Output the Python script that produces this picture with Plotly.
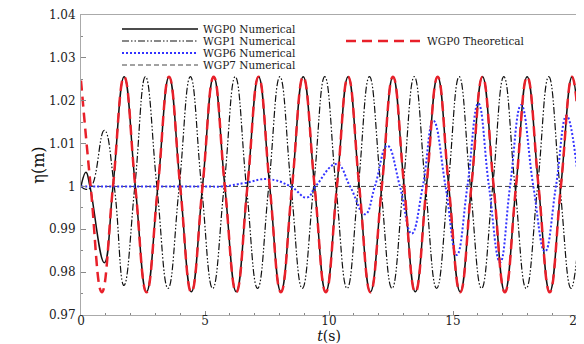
import plotly.graph_objects as go

# ---------------- data ----------------
# WGP0 Theoretical (red dashed)
t_theo = [0.0, 0.39, 0.84, 1.29, 1.74, 2.19, 2.64, 3.10, 3.55, 4.00, 4.45, 4.90, 5.35, 5.80,
          6.26, 6.71, 7.16, 7.61, 8.06, 8.51, 8.96, 9.42, 9.87, 10.32, 10.77, 11.22, 11.67,
          12.13, 12.58, 13.03, 13.48, 13.93, 14.38, 14.83, 15.29, 15.74, 16.19, 16.64, 17.09,
          17.54, 17.99, 18.45, 18.90, 19.35, 19.80, 20.0]
eta_theo = [1.0247, 1.0, 0.9753, 1.0, 1.0256, 1.0, 0.9753, 1.0, 1.0256, 1.0, 0.9753, 1.0, 1.0256, 1.0,
            0.9753, 1.0, 1.0256, 1.0, 0.9753, 1.0, 1.0256, 1.0, 0.9753, 1.0, 1.0256, 1.0, 0.9753,
            1.0, 1.0256, 1.0, 0.9753, 1.0, 1.0256, 1.0, 0.9753, 1.0, 1.0256, 1.0, 0.9753,
            1.0, 1.0256, 1.0, 0.9753, 1.0, 1.0256, 1.019]

# WGP0 Numerical (black solid)
t_wgp0 = [0.0, 0.20, 0.36, 0.94, 1.29, 1.74, 2.19, 2.64, 3.10, 3.55, 4.00, 4.45, 4.90, 5.35, 5.80,
          6.26, 6.71, 7.16, 7.61, 8.06, 8.51, 8.96, 9.42, 9.87, 10.32, 10.77, 11.22, 11.67,
          12.13, 12.58, 13.03, 13.48, 13.93, 14.38, 14.83, 15.29, 15.74, 16.19, 16.64, 17.09,
          17.54, 17.99, 18.45, 18.90, 19.35, 19.80, 20.0]
eta_wgp0 = [1.0, 1.0033, 1.0, 0.9822, 1.0, 1.0256, 1.0, 0.9754, 1.0, 1.0256, 1.0, 0.9754, 1.0, 1.0256, 1.0,
            0.9754, 1.0, 1.0256, 1.0, 0.9754, 1.0, 1.0256, 1.0, 0.9754, 1.0, 1.0256, 1.0, 0.9754,
            1.0, 1.0256, 1.0, 0.9754, 1.0, 1.0256, 1.0, 0.9754, 1.0, 1.0256, 1.0, 0.9754,
            1.0, 1.0256, 1.0, 0.9754, 1.0, 1.0256, 1.019]

# WGP1 Numerical (black dash-dot-dot)
t_wgp1 = [0.0, 0.20, 0.42, 0.94, 1.34, 1.73, 2.17, 2.60, 3.06, 3.51, 3.96, 4.41, 4.86, 5.31, 5.77,
          6.22, 6.67, 7.12, 7.57, 8.02, 8.47, 8.92, 9.38, 9.83, 10.28, 10.73, 11.18, 11.63,
          12.09, 12.54, 12.99, 13.44, 13.89, 14.34, 14.80, 15.25, 15.70, 16.15, 16.60, 17.05,
          17.50, 17.95, 18.41, 18.86, 19.31, 19.76, 20.0]
eta_wgp1 = [1.0, 0.9993, 1.0, 1.0131, 1.0, 0.9769, 1.0, 1.0256, 1.0, 0.9762, 1.0, 1.0256, 1.0, 0.9762, 1.0,
            1.0256, 1.0, 0.9762, 1.0, 1.0256, 1.0, 0.9762, 1.0, 1.0256, 1.0, 0.9762, 1.0, 1.0256,
            1.0, 0.9762, 1.0, 1.0256, 1.0, 0.9762, 1.0, 1.0256, 1.0, 0.9762, 1.0, 1.0256,
            1.0, 0.9762, 1.0, 1.0256, 1.0, 0.9762, 0.9838]

# WGP6 Numerical (blue dotted)
t_wgp6 = [0.0, 5.00, 5.70, 6.60, 7.54, 8.45, 9.11, 9.46, 10.31, 10.85, 11.45, 11.85, 12.35, 12.86,
          13.33, 13.78, 14.21, 14.70, 15.15, 15.58, 16.02, 16.45, 16.90, 17.30, 17.75, 18.24,
          18.71, 19.15, 19.58, 20.0]
eta_wgp6 = [1.0, 1.0, 1.0, 1.0008, 1.0017, 1.0, 0.9974, 1.0, 1.0052, 1.0, 0.9935, 1.0, 1.0095, 1.0,
            0.9890, 1.0, 1.0153, 1.0, 0.9840, 1.0, 1.0194, 1.0, 0.9823, 1.0, 1.0190, 1.0,
            0.9848, 1.0, 1.0165, 1.0040]

# WGP7 Numerical (grey dashed)
t_wgp7 = [0.0, 20.0]
eta_wgp7 = [1.0, 1.0]

names = ["WGP0 Numerical", "WGP1 Numerical", "WGP6 Numerical", "WGP7 Numerical", "WGP0 Theoretical"]

x_ticks = [0, 5, 10, 15, 20]
y_ticks = [0.97, 0.98, 0.99, 1.00, 1.01, 1.02, 1.03, 1.04]
y_ticktext = ["0.97", "0.98", "0.99", "1", "1.01", "1.02", "1.03", "1.04"]

# ---------------- figure ----------------
FONT = "DejaVu Serif"
fig = go.Figure()

fig.add_trace(go.Scatter(x=t_wgp7, y=eta_wgp7, name=names[3], mode="lines", legend="legend4",
                         line=dict(color="#444444", width=1, dash="5px,3px")))
fig.add_trace(go.Scatter(x=t_wgp1, y=eta_wgp1, name=names[1], mode="lines", legend="legend2",
                         line=dict(color="#111111", width=1.2, shape="spline", smoothing=1.3,
                                   dash="7px,2px,1.5px,2px,1.5px,2px")))
fig.add_trace(go.Scatter(x=t_wgp0, y=eta_wgp0, name=names[0], mode="lines", legend="legend",
                         line=dict(color="#111111", width=1.5, shape="spline", smoothing=1.3)))
fig.add_trace(go.Scatter(x=t_wgp6, y=eta_wgp6, name=names[2], mode="lines", legend="legend3",
                         line=dict(color="#3333ff", width=2, shape="spline", smoothing=1.3,
                                   dash="2px,2px")))
fig.add_trace(go.Scatter(x=t_theo, y=eta_theo, name=names[4], mode="lines", legend="legend5",
                         line=dict(color="#e8202a", width=2.5, shape="spline", smoothing=1.3,
                                   dash="10px,6px")))

# the page body adds an 8 px offset, so the figure is 8 px smaller and margins shifted
leg_common = dict(bgcolor="rgba(0,0,0,0)", borderwidth=0, itemwidth=76,
                  font=dict(family=FONT, size=10.5, color="#222222"),
                  xanchor="left", yanchor="middle", itemclick=False, itemdoubleclick=False)
xl = (117 - 81) / 496
fig.update_layout(
    legend=dict(x=xl, y=(315 - 29) / 300, **leg_common),
    legend2=dict(x=xl, y=(315 - 41) / 300, **leg_common),
    legend3=dict(x=xl, y=(315 - 53) / 300, **leg_common),
    legend4=dict(x=xl, y=(315 - 65) / 300, **leg_common),
    legend5=dict(x=(341 - 81) / 496, y=(315 - 41) / 300, **leg_common),
)

fig.update_layout(
    width=576, height=336,
    margin=dict(l=73, r=7, t=7, b=29, autoexpand=False),
    plot_bgcolor="white", paper_bgcolor="white",
    font=dict(family=FONT, size=12, color="#222222"),
    showlegend=True,
    xaxis=dict(range=[0, 20], tickmode="array", tickvals=x_ticks, automargin=False,
               ticks="inside", ticklen=4, tickcolor="#888888", ticklabelstandoff=-5,
               ticklabeloverflow="allow",
               showline=True, linecolor="#aaaaaa", linewidth=1, mirror=True,
               showgrid=False, zeroline=False,
               minor=dict(tickmode="linear", tick0=0, dtick=1, ticks="inside", ticklen=2,
                          tickcolor="#888888"),
               tickfont=dict(family=FONT, size=12, color="#222222"),
               title=dict(text="<i>t</i>(s)", font=dict(family=FONT, size=14, color="#111111"),
                          standoff=10)),
    yaxis=dict(range=[0.97, 1.04], tickmode="array", tickvals=y_ticks, ticktext=y_ticktext,
               automargin=False,
               ticks="inside", ticklen=5, tickcolor="#888888", ticklabelstandoff=2,
               showline=True, linecolor="#aaaaaa", linewidth=1, mirror=True,
               showgrid=False, zeroline=False,
               minor=dict(tickmode="linear", tick0=0.97, dtick=0.005, ticks="inside", ticklen=2,
                          tickcolor="#888888"),
               tickfont=dict(family=FONT, size=12, color="#222222"),
               title=dict(text="η(m)", font=dict(family=FONT, size=16, color="#111111"),
                          standoff=0)),
)

fig.write_html("out.html")
